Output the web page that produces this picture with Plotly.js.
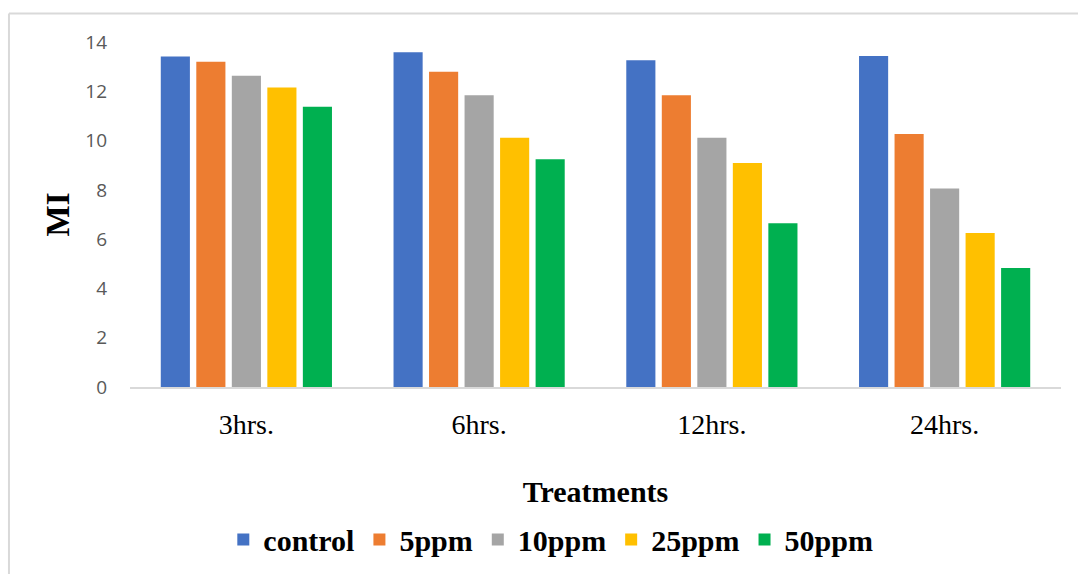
<!DOCTYPE html>
<html>
<head>
<meta charset="utf-8">
<script src="https://cdn.plot.ly/plotly-3.0.1.min.js"></script>
<style>
  html, body { margin: 0; padding: 0; background: #ffffff; }
  #chart { width: 1078px; height: 574px; }
</style>
</head>
<body>
<div id="chart"></div>
<script>
const categories = ["3hrs.", "6hrs.", "12hrs.", "24hrs."];
const seriesNames = ["control", "5ppm", "10ppm", "25ppm", "50ppm"];
const control = [13.41, 13.58, 13.26, 13.43];
const ppm5 = [13.20, 12.79, 11.84, 10.27];
const ppm10 = [12.63, 11.84, 10.11, 8.06];
const ppm25 = [12.15, 10.11, 9.09, 6.25];
const ppm50 = [11.37, 9.24, 6.64, 4.83];
const colors = ["#4472C4", "#ED7D31", "#A5A5A5", "#FFC000", "#00B050"];
const yTicks = [0, 2, 4, 6, 8, 10, 12, 14];

const values = [control, ppm5, ppm10, ppm25, ppm50];
const traces = values.map((v, i) => ({
  type: "bar",
  name: seriesNames[i],
  x: categories,
  y: v,
  marker: { color: colors[i], line: { width: 0 } },
  hoverinfo: "x+y+name"
}));

const layout = {
  width: 1078,
  height: 574,
  margin: { l: 130, r: 17, t: 42, b: 187 },
  paper_bgcolor: "#ffffff",
  plot_bgcolor: "#ffffff",
  barmode: "group",
  bargap: 0.237,
  bargroupgap: 0.18,
  showlegend: true,
  legend: {
    orientation: "h",
    xref: "paper",
    x: 0.452, xanchor: "center",
    yref: "container",
    y: 0.06, yanchor: "middle",
    font: { family: "Liberation Serif, Times New Roman, serif", size: 30, color: "#000000", weight: "bold" },
    itemwidth: 30,
    traceorder: "normal"
  },
  xaxis: {
    type: "category",
    showline: true,
    linecolor: "#D9D9D9",
    linewidth: 1.5,
    showgrid: false,
    ticks: "",
    ticklabelstandoff: 12,
    tickfont: { family: "Liberation Serif, Times New Roman, serif", size: 28, color: "#000000" },
    title: {
      text: "Treatments",
      font: { family: "Liberation Serif, Times New Roman, serif", size: 30, color: "#000000", weight: "bold" },
      standoff: 42
    },
    automargin: false
  },
  yaxis: {
    range: [0, 14],
    tickvals: yTicks,
    ticktext: yTicks.map(String),
    showline: false,
    showgrid: false,
    zeroline: false,
    ticks: "",
    ticklabelstandoff: 22,
    tickfont: { family: "Open Sans, Liberation Sans, sans-serif", size: 19, color: "#595959" },
    title: {
      text: "MI",
      font: { family: "Liberation Serif, Times New Roman, serif", size: 33, color: "#000000", weight: "bold" },
      standoff: 5
    },
    automargin: false
  },
  shapes: [
    { type: "line", xref: "paper", yref: "paper", x0: -0.13, x1: 1.1, y0: 1.0827, y1: 1.0827,
      line: { color: "#D9D9D9", width: 2 } },
    { type: "line", xref: "paper", yref: "paper", x0: -0.13, x1: -0.13, y0: 1.0827, y1: -1,
      line: { color: "#D9D9D9", width: 2 } }
  ]
};

Plotly.newPlot("chart", traces, layout, { displayModeBar: false, staticPlot: true });
</script>
</body>
</html>
